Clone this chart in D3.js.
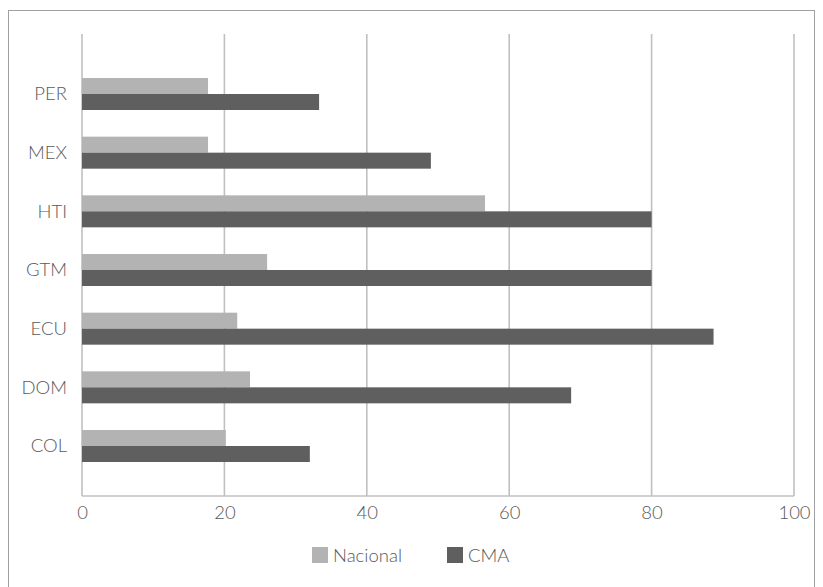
<!DOCTYPE html>
<html>
<head>
<meta charset="utf-8">
<script src="https://cdn.jsdelivr.net/npm/d3@7"></script>
<style>
  html, body { margin: 0; padding: 0; background: #ffffff; }
  svg { display: block; }
  text { font-family: Lato, "Open Sans", sans-serif; font-weight: 300; fill: #595959; }
</style>
</head>
<body>
<svg id="chart" width="823" height="587"></svg>
<script>
// ---- data ----
const categories = ["PER", "MEX", "HTI", "GTM", "ECU", "DOM", "COL"];
const seriesNames = ["Nacional", "CMA"];
const nacional = [17.7, 17.7, 56.6, 26.0, 21.8, 23.6, 20.2];
const cma = [33.3, 49.0, 80.0, 80.0, 88.7, 68.7, 32.0];
const xTicks = [0, 20, 40, 60, 80, 100];

const colors = { "Nacional": "#b2b3b2", "CMA": "#5f5f5f" };
const fontSize = 18.5;

const svg = d3.select("#chart");

// outer frame
svg.append("rect")
  .attr("x", 8.5).attr("y", 10.5)
  .attr("width", 806).attr("height", 590)
  .attr("fill", "none").attr("stroke", "#a0a0a0").attr("stroke-width", 1);

const plotLeft = 82, plotRight = 794, plotTop = 34, plotBottom = 496;

const x = d3.scaleLinear().domain([0, 100]).range([plotLeft, plotRight]);
const y = d3.scalePoint().domain(categories).range([94, 446]);
const sub = d3.scaleBand().domain(seriesNames).range([-16, 16]).padding(0);

// gridlines
svg.append("g").selectAll("line").data(xTicks).join("line")
  .attr("x1", d => x(d)).attr("x2", d => x(d))
  .attr("y1", plotTop).attr("y2", plotBottom)
  .attr("stroke", "#c0c0c0").attr("stroke-width", 1.6);

// bottom axis line
svg.append("line")
  .attr("x1", plotLeft).attr("x2", plotRight)
  .attr("y1", plotBottom).attr("y2", plotBottom)
  .attr("stroke", "#c0c0c0").attr("stroke-width", 1.6);

// bars
const rows = categories.map((c, i) => ({ cat: c, Nacional: nacional[i], CMA: cma[i] }));
const groups = svg.append("g").selectAll("g").data(rows).join("g")
  .attr("transform", d => `translate(0,${y(d.cat)})`);
groups.selectAll("rect")
  .data(d => seriesNames.map(s => ({ s, v: d[s] })))
  .join("rect")
  .attr("x", x(0))
  .attr("y", d => sub(d.s))
  .attr("width", d => x(d.v) - x(0))
  .attr("height", sub.bandwidth())
  .attr("fill", d => colors[d.s]);

// x tick labels
const xAxis = d3.axisBottom(x).tickValues(xTicks).tickSize(0).tickPadding(10).tickFormat(d3.format("d"));
const gx = svg.append("g").attr("transform", `translate(0,${plotBottom})`).call(xAxis);
gx.select(".domain").remove();
gx.selectAll("text").attr("font-size", fontSize).attr("fill", "#595959")
  .style("font-family", "Lato, 'Open Sans', sans-serif").style("font-weight", 300);

// y category labels
const yAxis = d3.axisLeft(y).tickSize(0).tickPadding(15);
const gy = svg.append("g").attr("transform", `translate(${plotLeft},0)`).call(yAxis);
gy.select(".domain").remove();
gy.selectAll("text").attr("font-size", fontSize).attr("fill", "#595959")
  .style("font-family", "Lato, 'Open Sans', sans-serif").style("font-weight", 300);

// legend
const legendItems = [
  { name: "Nacional", x: 312 },
  { name: "CMA", x: 447 }
];
const lg = svg.append("g").selectAll("g").data(legendItems).join("g")
  .attr("transform", d => `translate(${d.x},547)`);
lg.append("rect").attr("width", 16).attr("height", 16).attr("fill", d => colors[d.name]);
lg.append("text").attr("x", 21).attr("y", 14.5).attr("font-size", fontSize).text(d => d.name);
</script>
</body>
</html>
